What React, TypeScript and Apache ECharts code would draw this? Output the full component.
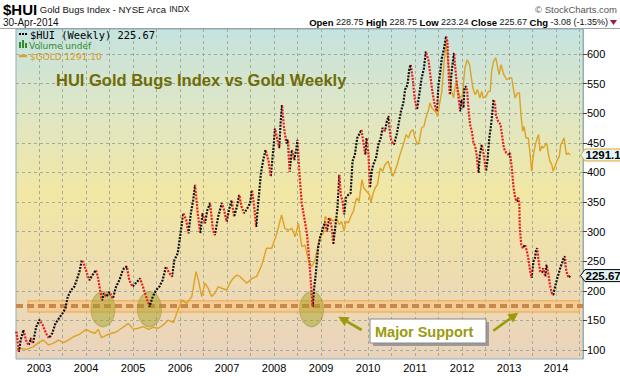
import React, { useEffect, useRef } from "react";
import * as echarts from "echarts";

// ---- HUI weekly closes (decimal year, index value) ----
const hui2002to2005 = [
  [2002.52, 131], [2002.57, 97], [2002.61, 117], [2002.67, 134], [2002.72, 117], [2002.78, 108], [2002.83, 120], [2002.87, 111], [2002.94, 139],
  [2003.01, 151], [2003.08, 142], [2003.15, 128], [2003.21, 120], [2003.28, 128], [2003.35, 145], [2003.42, 153], [2003.5, 162], [2003.56, 170],
  [2003.61, 190], [2003.68, 201], [2003.75, 207], [2003.8, 218], [2003.86, 232], [2003.91, 252], [2003.96, 244], [2004.01, 232], [2004.07, 218],
  [2004.14, 227], [2004.21, 235], [2004.25, 224], [2004.3, 201], [2004.34, 184], [2004.38, 196], [2004.43, 190], [2004.5, 198], [2004.57, 187],
  [2004.64, 207], [2004.71, 218], [2004.77, 232], [2004.81, 238], [2004.87, 241], [2004.92, 218], [2004.99, 207], [2005.06, 213], [2005.15, 221],
  [2005.21, 207], [2005.28, 190], [2005.35, 173], [2005.42, 190], [2005.49, 201], [2005.56, 207], [2005.63, 218], [2005.7, 241], [2005.77, 230],
  [2005.83, 224], [2005.88, 252], [2005.95, 263],
];
const hui2006to2008 = [
  [2006.0, 291], [2006.07, 331], [2006.13, 320], [2006.18, 297], [2006.23, 331], [2006.28, 353], [2006.32, 379], [2006.37, 336], [2006.43, 297],
  [2006.48, 331], [2006.53, 314], [2006.58, 336], [2006.64, 348], [2006.7, 303], [2006.74, 294], [2006.81, 325], [2006.89, 348], [2006.94, 336],
  [2006.99, 317], [2007.05, 339], [2007.1, 353], [2007.15, 325], [2007.21, 342], [2007.26, 362], [2007.31, 342], [2007.36, 331], [2007.43, 339],
  [2007.49, 348], [2007.53, 370], [2007.57, 348], [2007.62, 308], [2007.67, 353], [2007.72, 398], [2007.77, 421], [2007.82, 438], [2007.88, 421],
  [2007.93, 393], [2007.99, 443], [2008.02, 474], [2008.06, 460], [2008.11, 441], [2008.14, 483], [2008.17, 514], [2008.21, 477], [2008.26, 449],
  [2008.3, 455], [2008.33, 401], [2008.38, 438], [2008.43, 421], [2008.47, 438], [2008.5, 455], [2008.54, 398], [2008.59, 348], [2008.64, 325],
  [2008.7, 297], [2008.75, 252], [2008.8, 196], [2008.82, 173], [2008.85, 201], [2008.89, 230], [2008.94, 274],
];
const hui2009to2011 = [
  [2008.98, 290], [2009.04, 306], [2009.09, 317], [2009.12, 300], [2009.18, 323], [2009.23, 306], [2009.26, 278], [2009.3, 306], [2009.35, 340],
  [2009.39, 396], [2009.42, 362], [2009.46, 351], [2009.49, 329], [2009.53, 357], [2009.58, 362], [2009.63, 365], [2009.67, 419], [2009.72, 430],
  [2009.77, 458], [2009.81, 464], [2009.86, 472], [2009.9, 452], [2009.94, 430], [2009.97, 458], [2010.01, 430], [2010.04, 374], [2010.08, 402],
  [2010.11, 413], [2010.17, 424], [2010.22, 447], [2010.27, 458], [2010.31, 475], [2010.36, 470], [2010.4, 486], [2010.44, 495], [2010.47, 464],
  [2010.5, 452], [2010.55, 447], [2010.61, 464], [2010.66, 486], [2010.7, 503], [2010.75, 517], [2010.79, 540], [2010.84, 548], [2010.88, 576],
  [2010.91, 582], [2010.95, 559], [2010.99, 526], [2011.04, 506], [2011.09, 531], [2011.14, 559], [2011.19, 576], [2011.23, 604], [2011.26, 596],
  [2011.29, 588], [2011.35, 548], [2011.38, 531], [2011.42, 514], [2011.46, 503], [2011.5, 548], [2011.53, 565], [2011.57, 593], [2011.62, 610],
  [2011.66, 630], [2011.69, 621], [2011.72, 559], [2011.74, 531],
];
const hui2012to2014 = [
  [2011.78, 571], [2011.83, 602], [2011.85, 582], [2011.89, 548], [2011.92, 531], [2011.96, 503], [2011.99, 523], [2012.03, 509], [2012.05, 543],
  [2012.09, 545], [2012.11, 537], [2012.13, 514], [2012.17, 481], [2012.21, 469], [2012.24, 452], [2012.28, 444], [2012.31, 430], [2012.35, 399],
  [2012.38, 430], [2012.42, 447], [2012.45, 436], [2012.49, 413], [2012.51, 402], [2012.54, 419], [2012.58, 458], [2012.61, 475], [2012.64, 497],
  [2012.67, 523], [2012.7, 517], [2012.72, 497], [2012.77, 486], [2012.82, 481], [2012.87, 452], [2012.89, 441], [2012.94, 433], [2012.99, 430],
  [2013.02, 433], [2013.06, 407], [2013.09, 379], [2013.13, 357], [2013.16, 351], [2013.2, 357], [2013.22, 345], [2013.23, 306], [2013.26, 278],
  [2013.29, 272], [2013.34, 278], [2013.38, 267], [2013.41, 255], [2013.45, 233], [2013.48, 222], [2013.52, 250], [2013.55, 255], [2013.57, 267],
  [2013.6, 272], [2013.63, 250], [2013.66, 233], [2013.7, 231], [2013.73, 238], [2013.77, 224], [2013.8, 244], [2013.84, 227], [2013.87, 210],
  [2013.91, 196], [2013.94, 193], [2013.99, 210], [2014.03, 222], [2014.07, 233], [2014.1, 241], [2014.13, 247], [2014.16, 255], [2014.19, 258],
  [2014.21, 238], [2014.24, 227], [2014.27, 222], [2014.3, 225.67],
];

// ---- $GOLD weekly closes (decimal year, USD) ----
const gold2002to2005 = [
  [2002.53, 295], [2002.74, 289], [2002.88, 303], [2002.99, 324], [2003.09, 337], [2003.2, 312], [2003.3, 320], [2003.41, 337], [2003.52, 324],
  [2003.62, 337], [2003.73, 354], [2003.87, 368], [2004.0, 392], [2004.09, 380], [2004.19, 372], [2004.26, 392], [2004.33, 349], [2004.44, 363],
  [2004.55, 372], [2004.65, 380], [2004.76, 398], [2004.9, 423], [2005.01, 392], [2005.11, 398], [2005.22, 406], [2005.33, 392], [2005.43, 403],
  [2005.54, 398], [2005.64, 415], [2005.75, 440], [2005.86, 427], [2005.93, 475],
];
const gold2006to2008 = [
  [2006.04, 544], [2006.14, 526], [2006.25, 561], [2006.34, 690], [2006.39, 647], [2006.46, 561], [2006.53, 630], [2006.6, 604], [2006.67, 561],
  [2006.74, 578], [2006.81, 612], [2006.89, 604], [2006.99, 595], [2007.06, 630], [2007.13, 655], [2007.21, 672], [2007.28, 664], [2007.35, 647],
  [2007.42, 630], [2007.53, 655], [2007.63, 664], [2007.74, 724], [2007.84, 810], [2007.95, 810], [2008.06, 887], [2008.16, 982], [2008.23, 913],
  [2008.3, 904], [2008.38, 913], [2008.45, 870], [2008.52, 939], [2008.59, 818], [2008.66, 827], [2008.73, 750], [2008.8, 715], [2008.87, 750],
  [2008.94, 827],
];
const gold2009to2011 = [
  [2008.98, 870], [2009.05, 887], [2009.09, 975], [2009.13, 958], [2009.19, 966], [2009.26, 949], [2009.33, 966], [2009.39, 932], [2009.44, 949],
  [2009.49, 898], [2009.53, 949], [2009.58, 941], [2009.65, 983], [2009.69, 1001], [2009.72, 1035], [2009.76, 1069], [2009.81, 1052], [2009.87, 1164],
  [2009.91, 1121], [2009.97, 1104], [2010.03, 1086], [2010.06, 1044], [2010.1, 1086], [2010.15, 1121], [2010.2, 1138], [2010.26, 1224], [2010.31, 1207],
  [2010.36, 1241], [2010.43, 1259], [2010.47, 1224], [2010.53, 1181], [2010.57, 1207], [2010.62, 1241], [2010.68, 1293], [2010.75, 1344], [2010.81, 1396],
  [2010.86, 1379], [2010.91, 1413], [2010.96, 1421], [2010.99, 1387], [2011.05, 1344], [2011.09, 1362], [2011.14, 1430], [2011.19, 1439], [2011.23, 1482],
  [2011.28, 1516], [2011.32, 1559], [2011.36, 1533], [2011.39, 1525], [2011.45, 1508], [2011.48, 1490], [2011.52, 1550], [2011.57, 1619], [2011.62, 1774],
  [2011.66, 1877], [2011.7, 1774], [2011.73, 1722], [2011.78, 1619], [2011.82, 1585], [2011.85, 1636], [2011.89, 1671], [2011.92, 1619], [2011.96, 1585],
  [2012.01, 1602],
];
const gold2012to2014 = [
  [2012.06, 1739], [2012.11, 1782], [2012.16, 1757], [2012.23, 1636], [2012.28, 1602], [2012.33, 1628], [2012.38, 1585], [2012.42, 1619], [2012.45, 1585],
  [2012.51, 1593], [2012.56, 1619], [2012.6, 1619], [2012.63, 1722], [2012.67, 1774], [2012.72, 1791], [2012.76, 1739], [2012.79, 1705], [2012.83, 1757],
  [2012.87, 1722], [2012.89, 1705], [2012.95, 1679], [2013.01, 1688], [2013.06, 1688], [2013.09, 1636], [2013.13, 1585], [2013.18, 1611], [2013.22, 1611],
  [2013.26, 1482], [2013.29, 1413], [2013.32, 1439], [2013.36, 1379], [2013.41, 1379], [2013.45, 1293], [2013.48, 1207], [2013.52, 1293], [2013.56, 1344],
  [2013.6, 1379], [2013.63, 1396], [2013.66, 1310], [2013.7, 1336], [2013.73, 1327], [2013.77, 1344], [2013.8, 1353], [2013.84, 1293], [2013.87, 1259],
  [2013.91, 1241], [2013.94, 1207], [2013.99, 1241], [2014.03, 1267], [2014.07, 1284], [2014.1, 1344], [2014.14, 1362], [2014.17, 1379], [2014.19, 1344],
  [2014.22, 1293], [2014.26, 1301], [2014.3, 1291.1],
];

// ---- axes / annotations ----
const yearLabels = [2003, 2004, 2005, 2006, 2007, 2008, 2009, 2010, 2011, 2012, 2013, 2014];
const gridYears = [2003, 2003.5, 2004, 2004.5, 2005, 2005.5, 2006, 2006.5, 2007, 2007.5, 2008, 2008.5, 2009, 2009.5, 2010, 2010.5, 2011, 2011.5, 2012, 2012.5, 2013, 2013.5, 2014, 2014.5];
const priceTicks = [100, 150, 200, 250, 300, 350, 400, 450, 500, 550, 600];
const supportLevel = 175;
const supportBand = [164, 183];
const supportTestDates = [2004.36, 2005.35, 2008.8];
const supportTestLevel = 169;

const huiSeries = [...hui2002to2005, ...hui2006to2008, ...hui2009to2011, ...hui2012to2014];
const goldSeries = [...gold2002to2005, ...gold2006to2008, ...gold2009to2011, ...gold2012to2014];

const UP = "#111111";
const DOWN = "#ec1a1a";
const GOLD = "#dea225";
const GOLD_TEXT = "#d99a18";
const OLIVE = "#9b9a0c";
const FONT = '"Liberation Sans", Arial, sans-serif';

function buildPieces() {
  const pieces: any[] = [];
  for (let i = 1; i < huiSeries.length; i++) {
    const up = huiSeries[i][1] >= huiSeries[i - 1][1];
    const p: any = { gte: huiSeries[i - 1][0], color: up ? UP : DOWN };
    if (i === huiSeries.length - 1) p.lte = huiSeries[i][0];
    else p.lt = huiSeries[i][0];
    pieces.push(p);
  }
  return pieces;
}

function arrow(x1: number, y1: number, x2: number, y2: number) {
  const dx = x2 - x1, dy = y2 - y1;
  const len = Math.hypot(dx, dy);
  const ux = dx / len, uy = dy / len;
  const hl = 10, hw = 5;
  const bx = x2 - ux * hl, by = y2 - uy * hl;
  return [
    { type: "line", z: 100, shape: { x1, y1, x2: bx, y2: by }, style: { stroke: OLIVE, lineWidth: 2.6 } },
    { type: "polygon", z: 100, shape: { points: [[x2, y2], [bx - uy * hw, by + ux * hw], [bx + uy * hw, by - ux * hw]] }, style: { fill: OLIVE } },
  ];
}

function priceTag(y: number, label: string, border: string) {
  return [
    {
      type: "polygon", z: 100,
      shape: { points: [[580.5, y], [585, y - 6], [624, y - 6], [624, y + 6], [585, y + 6]] },
      style: { fill: "#e2f6f8", stroke: border, lineWidth: 1 },
    },
    {
      type: "text", z: 101, x: 585.5, y,
      style: { text: label, fill: "#000", font: `bold 11.5px ${FONT}`, textVerticalAlign: "middle" },
    },
  ];
}

export default function App() {
  const ref = useRef<HTMLDivElement>(null);
  useEffect(() => {
    const chart = echarts.init(ref.current!, null, { renderer: "svg" });
    const option: any = {
      animation: false,
      backgroundColor: "#ffffff",
      grid: {
        left: 16, right: 37, top: 29, bottom: 17, show: true,
        borderColor: "#8fb0b8", borderWidth: 1,
        backgroundColor: {
          type: "linear", x: 0, y: 0, x2: 0, y2: 1,
          colorStops: [
            { offset: 0, color: "#c5e3e0" },
            { offset: 0.25, color: "#dfe6c4" },
            { offset: 0.5, color: "#f2e7a4" },
            { offset: 0.75, color: "#eedcb1" },
            { offset: 1, color: "#ead3bd" },
          ],
        },
      },
      visualMap: {
        type: "piecewise", show: false, dimension: 0, seriesIndex: 0,
        pieces: buildPieces(), outOfRange: { color: UP },
      },
      xAxis: {
        type: "value", min: 2002.51, max: 2014.574,
        axisLine: { show: false },
        axisTick: { show: false, customValues: gridYears },
        axisLabel: {
          customValues: yearLabels, formatter: (v: number) => String(Math.round(v)),
          color: "#000", fontSize: 11, fontFamily: FONT, margin: 3,
        },
        splitLine: { show: true, lineStyle: { color: "#a3aa98", type: [3, 3], width: 1 } },
      },
      yAxis: [
        {
          type: "value", position: "right", min: 84.8, max: 642.2,
          axisLine: { show: true, lineStyle: { color: "#8fb0b8" } },
          axisTick: { show: true, customValues: priceTicks, length: 4, lineStyle: { color: "#444" } },
          axisLabel: { customValues: priceTicks, color: "#000", fontSize: 11, fontFamily: FONT, margin: 4 },
          splitLine: { show: true, lineStyle: { color: "#a3aa98", type: [3, 3], width: 1 } },
        },
        { type: "value", min: 239.4, max: 1940.5, show: false, splitLine: { show: false } },
      ],
      series: [
        {
          name: "$HUI", type: "line", data: huiSeries, yAxisIndex: 0, z: 5,
          showSymbol: false, symbol: "none",
          lineStyle: { width: 2.2, type: [2, 1.3] },
        },
        {
          name: "$GOLD", type: "line", data: goldSeries, yAxisIndex: 1, z: 4,
          showSymbol: false, symbol: "none", color: GOLD,
          lineStyle: { width: 1.4, color: GOLD },
        },
        {
          name: "support", type: "line", data: [], yAxisIndex: 0, z: 2,
          markArea: {
            silent: true,
            itemStyle: { color: "rgba(250,190,110,0.45)", borderColor: "#f2b466", borderWidth: 1.5 },
            data: [[{ coord: [2002.77, supportBand[1]] }, { coord: [2014.49, supportBand[0]] }]],
          },
          markLine: {
            silent: true, symbol: ["none", "none"], label: { show: false },
            lineStyle: { color: "#c8874d", width: 4, type: [7, 4] },
            data: [{ yAxis: supportLevel }],
          },
        },
        {
          name: "tests", type: "line", data: [], yAxisIndex: 0, z: 8,
          markPoint: {
            silent: true, symbol: "circle", symbolSize: [24, 35], label: { show: false },
            itemStyle: { color: "rgba(160,158,30,0.45)", borderColor: "rgba(140,138,20,0.45)", borderWidth: 1 },
            data: supportTestDates.map((d) => ({ coord: [d, supportTestLevel] })),
          },
        },
      ],
    };
    chart.setOption(option);

    const lastHui = huiSeries[huiSeries.length - 1][1];
    const lastGold = goldSeries[goldSeries.length - 1][1];
    const yHui = chart.convertToPixel({ yAxisIndex: 0 } as any, lastHui) as number;
    const yGold = chart.convertToPixel({ yAxisIndex: 1 } as any, lastGold) as number;

    const graphic: any[] = [
      // header
      {
        type: "text", z: 100, x: 3, y: 9,
        style: {
          text: "{b|$HUI} Gold Bugs Index - NYSE Arca {s|INDX}",
          font: `9.5px ${FONT}`, fill: "#111", textVerticalAlign: "middle",
          rich: {
            b: { fontFamily: FONT, fontSize: 15, fontWeight: "bold", fill: "#000" },
            s: { fontFamily: FONT, fontSize: 8.5, fill: "#111" },
          },
        },
      },
      {
        type: "text", z: 100, x: 617, y: 9,
        style: { text: "© StockCharts.com", font: `9.5px ${FONT}`, fill: "#555", textAlign: "right", textVerticalAlign: "middle" },
      },
      {
        type: "text", z: 100, x: 3, y: 22,
        style: { text: "30-Apr-2014", font: `10px ${FONT}`, fill: "#111", textVerticalAlign: "middle" },
      },
      {
        type: "text", z: 100, x: 608, y: 22,
        style: {
          text: "{b|Open} 228.75 {b|High} 228.75 {b|Low} 223.24 {b|Close} 225.67 {b|Chg} -3.08 (-1.35%)",
          font: `9px ${FONT}`, fill: "#111", textAlign: "right", textVerticalAlign: "middle",
          rich: { b: { fontFamily: FONT, fontSize: 9.5, fontWeight: "bold", fill: "#000" } },
        },
      },
      { type: "polygon", z: 100, shape: { points: [[610, 20], [617, 20], [613.5, 25]] }, style: { fill: "#9c1a3c" } },
      { type: "line", z: 99, shape: { x1: 0, y1: 28.5, x2: 620, y2: 28.5 }, style: { stroke: "#9aa3a5", lineWidth: 1 } },

      // in-plot legend
      { type: "rect", z: 100, shape: { x: 19, y: 33, width: 2, height: 2 }, style: { fill: "#000" } },
      { type: "rect", z: 100, shape: { x: 22, y: 33, width: 2, height: 2 }, style: { fill: "#000" } },
      { type: "rect", z: 100, shape: { x: 25, y: 33, width: 2, height: 2 }, style: { fill: "#000" } },
      {
        type: "text", z: 100, x: 30, y: 35,
        style: { text: "$HUI (Weekly) 225.67", font: `10.4px "DejaVu Sans Mono", monospace`, fill: "#000", textVerticalAlign: "middle" },
      },
      { type: "rect", z: 100, shape: { x: 19, y: 42, width: 2, height: 6 }, style: { fill: "#2e8b2e" } },
      { type: "rect", z: 100, shape: { x: 22, y: 40, width: 2, height: 8 }, style: { fill: "#2e8b2e" } },
      { type: "rect", z: 100, shape: { x: 25, y: 43, width: 2, height: 5 }, style: { fill: "#2e8b2e" } },
      {
        type: "text", z: 100, x: 29, y: 45.5,
        style: { text: "Volume undef", font: `9px "DejaVu Sans", sans-serif`, fill: "#2e8b2e", textVerticalAlign: "middle" },
      },
      { type: "line", z: 100, shape: { x1: 19, y1: 56, x2: 27, y2: 56 }, style: { stroke: GOLD, lineWidth: 2.5 } },
      {
        type: "text", z: 100, x: 30, y: 56.5,
        style: { text: "$GOLD 1291.10", font: `9px "DejaVu Sans", sans-serif`, fill: GOLD_TEXT, textVerticalAlign: "middle" },
      },

      // title
      {
        type: "text", z: 100, x: 56, y: 80,
        style: { text: "HUI Gold Bugs Index vs Gold Weekly", font: `bold 16.5px ${FONT}`, fill: "#6f6c06", textVerticalAlign: "middle" },
      },

      // Major Support callout
      { type: "rect", z: 100, shape: { x: 373, y: 322, width: 116, height: 24 }, style: { fill: "#9c9a96" } },
      { type: "rect", z: 101, shape: { x: 370, y: 319, width: 116, height: 24 }, style: { fill: "#ffffff", stroke: "#8a8a8a", lineWidth: 1 } },
      {
        type: "text", z: 102, x: 375, y: 331.5,
        style: { text: "Major Support", font: `bold 14.5px ${FONT}`, fill: OLIVE, textVerticalAlign: "middle" },
      },
      ...arrow(361.7, 330, 338.3, 316.7),
      ...arrow(493.3, 330.7, 518.3, 312.7),

      // last-value tags
      ...priceTag(yGold, lastGold.toFixed(2), "#e2a52c"),
      ...priceTag(yHui, lastHui.toFixed(2), "#000000"),
    ];
    chart.setOption({ graphic });

    return () => chart.dispose();
  }, []);
  return <div ref={ref} style={{ position: "fixed", left: 0, top: 0, width: 620, height: 376 }} />;
}
